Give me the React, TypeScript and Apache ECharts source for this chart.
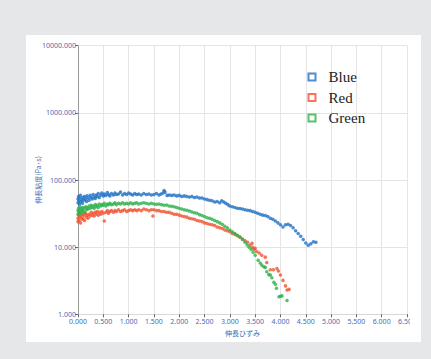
import React, { useEffect, useRef } from "react";
import * as echarts from "echarts";

const seriesNames = ["Blue", "Red", "Green"];
const seriesColors = ["#1f6fc5", "#ef5430", "#2db24a"];
const xAxisName = "伸長ひずみ";
const yAxisName = "伸長粘度(Pa･s)";

const blueData: [number, number][] = [
  [0.00, 52], [0.00, 46], [0.01, 57], [0.02, 49], [0.03, 44], [0.04, 54], [0.05, 59], [0.06, 48], [0.08, 51], [0.09, 45],
  [0.10, 55], [0.12, 50], [0.13, 57], [0.15, 52], [0.17, 48], [0.18, 58], [0.20, 54], [0.22, 50], [0.24, 59], [0.26, 55],
  [0.28, 52], [0.30, 61], [0.32, 56], [0.34, 53], [0.36, 60], [0.38, 57], [0.40, 63], [0.42, 55], [0.45, 60], [0.47, 64],
  [0.50, 58], [0.52, 62], [0.55, 59], [0.58, 65], [0.60, 61], [0.63, 58], [0.66, 63], [0.70, 60], [0.73, 64], [0.76, 61],
  [0.80, 62], [0.84, 66], [0.88, 60], [0.92, 63], [0.96, 61], [1.00, 64], [1.04, 62], [1.08, 60], [1.12, 63], [1.16, 61],
  [1.20, 62], [1.25, 60], [1.30, 63], [1.35, 61], [1.40, 62], [1.45, 60], [1.50, 61], [1.55, 63], [1.60, 60], [1.64, 62],
  [1.68, 64], [1.70, 70], [1.72, 66], [1.76, 59], [1.80, 60], [1.85, 59], [1.90, 60], [1.95, 58], [2.00, 59], [2.05, 57],
  [2.10, 58], [2.15, 57], [2.20, 56], [2.25, 57], [2.30, 55], [2.35, 56], [2.40, 54], [2.45, 54], [2.50, 52], [2.55, 51],
  [2.60, 50], [2.65, 49], [2.70, 47], [2.75, 48], [2.80, 46], [2.84, 49], [2.88, 47], [2.92, 45], [2.96, 43], [3.00, 41],
  [3.05, 40], [3.10, 39], [3.15, 38], [3.20, 37.5], [3.25, 37], [3.30, 36], [3.35, 35.5], [3.40, 35], [3.45, 34], [3.50, 33],
  [3.55, 32], [3.60, 31], [3.65, 30], [3.70, 29.5], [3.75, 28.5], [3.80, 27], [3.85, 26], [3.90, 24.5], [3.95, 23], [4.00, 21.5],
  [4.05, 20], [4.10, 21.5], [4.15, 22], [4.20, 21], [4.25, 19.5], [4.30, 17.5], [4.35, 16], [4.40, 14.5], [4.45, 13], [4.50, 11.5],
  [4.55, 10.7], [4.60, 11.2], [4.65, 12], [4.70, 11.8],
];

const redData: [number, number][] = [
  [0.00, 27], [0.00, 24], [0.01, 30], [0.02, 25], [0.03, 33], [0.04, 28], [0.05, 23], [0.06, 29], [0.08, 26], [0.09, 31],
  [0.10, 27], [0.12, 30], [0.13, 25], [0.15, 32], [0.17, 28], [0.18, 30], [0.20, 27], [0.22, 31], [0.24, 29], [0.26, 33],
  [0.28, 30], [0.30, 32], [0.32, 29], [0.34, 33], [0.36, 31], [0.38, 34], [0.40, 30], [0.42, 33], [0.45, 31], [0.47, 34],
  [0.50, 32], [0.52, 24.5], [0.55, 33], [0.58, 35], [0.60, 32], [0.63, 34], [0.66, 35], [0.70, 33], [0.73, 35], [0.76, 34],
  [0.80, 36], [0.84, 34], [0.88, 35], [0.92, 36], [0.96, 34], [1.00, 35], [1.04, 36], [1.08, 35], [1.12, 36], [1.16, 35],
  [1.20, 36], [1.25, 35], [1.30, 37], [1.35, 36], [1.40, 35], [1.45, 36], [1.48, 29], [1.50, 36], [1.55, 35], [1.60, 35],
  [1.65, 34], [1.70, 34], [1.75, 33], [1.80, 33], [1.85, 32], [1.90, 31], [1.95, 31], [2.00, 30], [2.05, 29], [2.10, 28.5],
  [2.15, 28], [2.20, 27], [2.25, 26.5], [2.30, 26], [2.35, 25], [2.40, 24.5], [2.45, 24], [2.50, 23], [2.55, 22.5], [2.60, 22],
  [2.65, 21.5], [2.70, 21], [2.75, 20], [2.80, 19.5], [2.85, 19], [2.90, 18], [2.95, 17.5], [3.00, 17], [3.05, 16], [3.10, 15.5],
  [3.15, 14.8], [3.20, 14], [3.25, 13.2], [3.30, 12.5], [3.35, 11.8], [3.40, 10.8], [3.44, 11.4], [3.45, 10], [3.48, 9.3], [3.50, 9.6],
  [3.53, 8.6], [3.58, 8.2], [3.63, 7.6], [3.70, 7.1], [3.73, 5.9], [3.80, 4.6], [3.86, 4.6], [3.93, 4.8], [3.96, 4.4], [4.00, 3.85],
  [4.05, 3.2], [4.10, 2.65], [4.13, 2.3], [4.17, 2.35],
];

const greenData: [number, number][] = [
  [0.00, 35], [0.00, 31], [0.01, 38], [0.02, 33], [0.03, 36], [0.04, 40], [0.05, 32], [0.06, 37], [0.08, 34], [0.09, 39],
  [0.10, 35], [0.12, 38], [0.13, 33], [0.15, 40], [0.17, 36], [0.18, 39], [0.20, 37], [0.22, 41], [0.24, 38], [0.26, 42],
  [0.28, 39], [0.30, 41], [0.32, 38], [0.34, 43], [0.36, 40], [0.38, 42], [0.40, 39], [0.42, 44], [0.45, 41], [0.47, 43],
  [0.50, 42], [0.52, 45], [0.55, 41], [0.58, 44], [0.60, 43], [0.63, 45], [0.66, 43], [0.70, 44], [0.73, 46], [0.76, 43],
  [0.80, 45], [0.84, 44], [0.88, 46], [0.92, 44], [0.96, 45], [1.00, 44], [1.04, 46], [1.08, 44], [1.12, 45], [1.16, 46],
  [1.20, 44], [1.25, 45], [1.30, 46], [1.35, 45], [1.40, 44], [1.45, 45], [1.50, 44], [1.55, 43.5], [1.60, 44], [1.65, 43],
  [1.70, 42], [1.75, 42.5], [1.80, 41], [1.85, 40.5], [1.90, 40], [1.95, 39], [2.00, 38], [2.05, 37], [2.10, 36], [2.15, 35.5],
  [2.20, 34.5], [2.25, 33.5], [2.30, 32.5], [2.35, 32], [2.40, 30.5], [2.45, 29.5], [2.50, 28.5], [2.55, 27.5], [2.60, 27], [2.65, 26],
  [2.70, 25], [2.75, 24], [2.80, 23], [2.85, 22], [2.90, 20.5], [2.95, 19.5], [3.00, 18], [3.05, 17], [3.10, 16], [3.15, 15],
  [3.20, 14.2], [3.25, 13], [3.30, 11.8], [3.34, 10.8], [3.38, 10], [3.42, 9.2], [3.46, 8.4], [3.50, 7.6], [3.56, 6.4], [3.60, 5.8],
  [3.63, 5.4], [3.67, 5.1], [3.70, 5.0], [3.73, 4.3], [3.77, 3.9], [3.80, 3.85], [3.83, 3.5], [3.87, 3.0], [3.90, 2.8], [3.92, 2.45],
  [3.97, 1.83], [4.00, 1.85], [4.03, 1.88], [4.13, 1.6],
];

const allData = [blueData, redData, greenData];

const labelColor = "#4a6cb4";
const tickFont = "'Noto Sans', 'DejaVu Sans', sans-serif";

export default function App() {
  const ref = useRef<HTMLDivElement>(null);

  useEffect(() => {
    if (!ref.current) return;
    const chart = echarts.init(ref.current, null, { renderer: "svg" });
    chart.setOption({
      animation: false,
      backgroundColor: "transparent",
      grid: { left: 78, right: 3, top: 45.7, bottom: 44.7, outerBoundsMode: "none", containLabel: false },
      legend: {
        orient: "vertical",
        left: 307.5,
        top: 69.5,
        padding: 0,
        itemWidth: 23,
        itemHeight: 7,
        itemGap: 5.5,
        icon: "path://M0,0H10V10H0Z",
        textStyle: {
          fontFamily: "'Liberation Serif', 'DejaVu Serif', serif",
          fontSize: 15,
          lineHeight: 15,
          color: "#222",
        },
        data: seriesNames.map((n, i) => ({
          name: n,
          itemStyle: { color: "#fff", borderColor: seriesColors[i], borderWidth: 2 },
        })),
      },
      xAxis: {
        type: "value",
        min: 0,
        max: 6.5,
        interval: 0.5,
        name: xAxisName,
        nameLocation: "middle",
        nameGap: 15,
        nameMoveOverlap: false,
        nameTextStyle: { color: labelColor, fontSize: 7, fontFamily: "'Noto Sans CJK JP', sans-serif" },
        axisLine: { show: true, lineStyle: { color: "#d8d8d8", width: 1 } },
        axisTick: { show: true, length: 3, lineStyle: { color: "#666" } },
        axisLabel: {
          color: labelColor,
          fontSize: 7,
          fontFamily: tickFont,
          margin: 4,
          formatter: (v: number) => v.toFixed(3),
        },
        splitLine: { show: true, lineStyle: { color: "#e4e4e4", width: 1 } },
      },
      yAxis: {
        type: "log",
        logBase: 10,
        min: 1,
        max: 10000,
        name: yAxisName,
        nameLocation: "middle",
        nameGap: 37,
        nameRotate: 90,
        nameMoveOverlap: false,
        nameTextStyle: { color: labelColor, fontSize: 7, fontFamily: "'Noto Sans CJK JP', sans-serif" },
        axisLine: { show: true, lineStyle: { color: "#9a9a9a", width: 1 } },
        axisTick: { show: true, length: 3, lineStyle: { color: "#666" } },
        axisLabel: {
          color: labelColor,
          fontSize: 7,
          fontFamily: tickFont,
          margin: 2,
          formatter: (v: number) => v.toFixed(3),
        },
        splitLine: { show: true, lineStyle: { color: "#e4e4e4", width: 1 } },
      },
      series: seriesNames.map((n, i) => ({
        name: n,
        type: "scatter",
        data: allData[i],
        symbol: "circle",
        symbolSize: 3.5,
        itemStyle: { color: seriesColors[i] },
      })),
    });
    return () => chart.dispose();
  }, []);

  return (
    <div style={{ position: "fixed", left: 0, top: 0, width: 431, height: 359, background: "#e6e7e9" }}>
      <div style={{ position: "absolute", left: 26, top: 35, width: 395, height: 307, background: "#fff" }} />
      <div ref={ref} style={{ position: "absolute", left: 0, top: 0, width: 410, height: 359 }} />
    </div>
  );
}
